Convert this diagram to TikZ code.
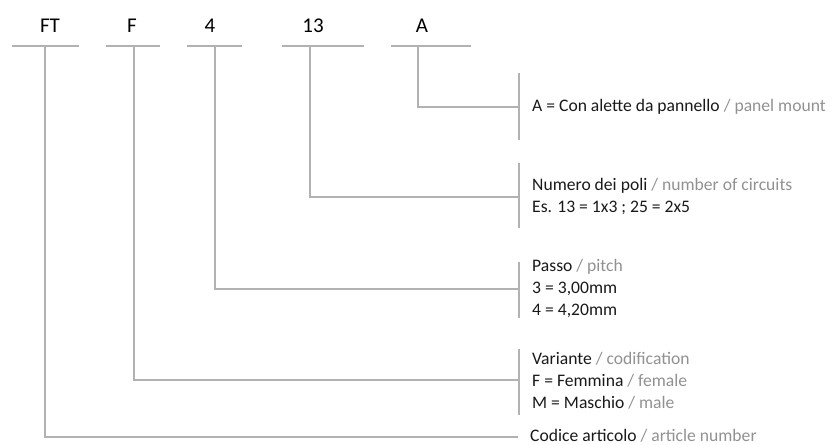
\documentclass[tikz,border=0pt]{standalone}
\usepackage{fontspec}
\setmainfont{Carlito}
\definecolor{leadgray}{RGB}{178,178,178}
\definecolor{enggray}{RGB}{145,145,145}
\newcommand{\eng}[1]{\textcolor{enggray}{#1}}
\tikzset{
	codepart/.style={font=\fontsize{21}{25}\selectfont, anchor=base, inner sep=0pt},
	descr/.style={font=\fontsize{17.6}{22}\selectfont, anchor=west, align=left, inner sep=0pt, text=black!90},
	lead/.style={draw=leadgray, line width=1.6pt},
}
\begin{document}
\begin{tikzpicture}[x=1pt,y=-1pt]
	\useasboundingbox (0,0) rectangle (837,444);
	% code letters on top
	\node[codepart] (ft) at (50,33) {FT};
	\node[codepart] (f) at (132,33) {F};
	\node[codepart] (pitch) at (210,33) {4};
	\node[codepart] (poles) at (313,33) {13};
	\node[codepart] (mount) at (422,33) {A};
	% bars under the letters
	\draw[lead] (12,46) -- (79,46);
	\draw[lead] (106,46) -- (160,46);
	\draw[lead] (187,46) -- (242,46);
	\draw[lead] (282,46) -- (364,46);
	\draw[lead] (391,46) -- (471,46);
	\coordinate (ft-tick) at (45,46);
	\coordinate (f-tick) at (134,46);
	\coordinate (pitch-tick) at (215,46);
	\coordinate (poles-tick) at (310,46);
	\coordinate (mount-tick) at (418,46);
	% brackets on the right
	\draw[lead] (519,73) -- (519,140);
	\draw[lead] (519,163) -- (519,228);
	\draw[lead] (519,262) -- (519,318);
	\draw[lead] (519,349) -- (519,415);
	\coordinate (mount-end) at (519,107);
	\coordinate (poles-end) at (519,197);
	\coordinate (pitch-end) at (519,289);
	\coordinate (f-end) at (519,380);
	\coordinate (ft-end) at (518,437);
	% descriptions
	\node[descr] (mount-txt) at (532,107) {A = Con alette da pannello \eng{/ panel mount}};
	\node[descr] (poles-txt) at (532,197) {Numero dei poli \eng{/ number of circuits}\\Es. 13 = 1x3 ; 25 = 2x5};
	\node[descr] (pitch-txt) at (532,289) {Passo \eng{/ pitch}\\3 = 3,00mm\\4 = 4,20mm};
	\node[descr] (f-txt) at (532,381) {Variante \eng{/ codification}\\F = Femmina \eng{/ female}\\M = Maschio \eng{/ male}};
	\node[descr, anchor=base west] (ft-txt) at (530,441) {Codice articolo \eng{/ article number}};
	% leaders
	\draw[lead] (mount-tick) |- (mount-end);
	\draw[lead] (poles-tick) |- (poles-end);
	\draw[lead] (pitch-tick) |- (pitch-end);
	\draw[lead] (f-tick) |- (f-end);
	\draw[lead] (ft-tick) |- (ft-end);
\end{tikzpicture}
\end{document}
